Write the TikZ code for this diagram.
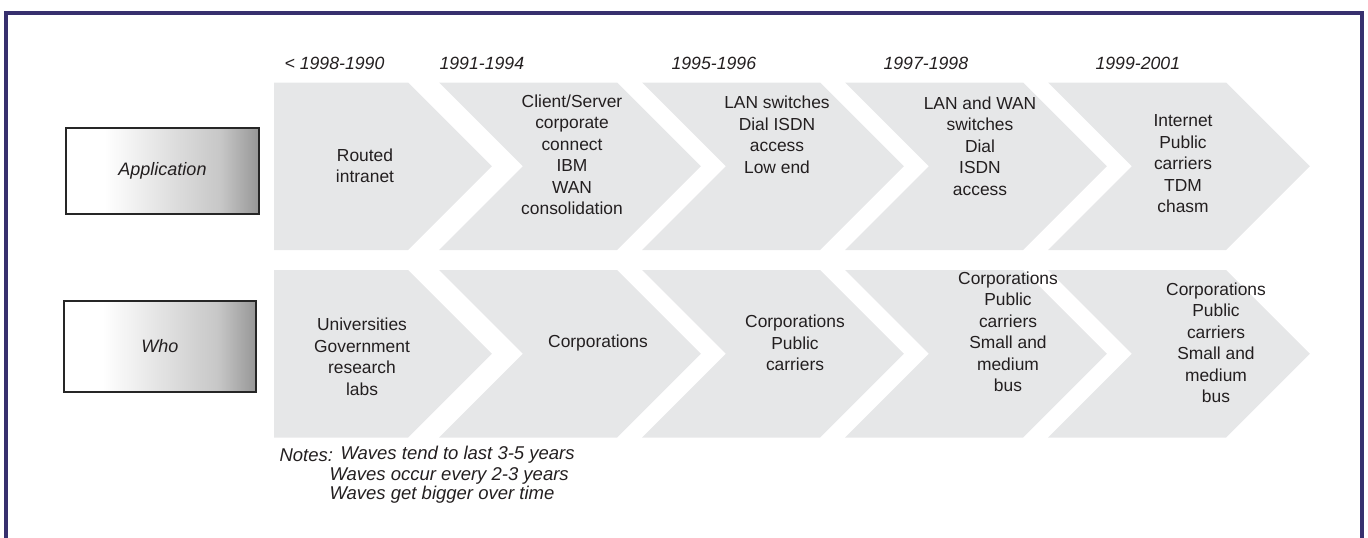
\documentclass[tikz,border=0pt]{standalone}
\usepackage{fontspec}
\setmainfont{Liberation Sans}
\usetikzlibrary{positioning}

\definecolor{framecol}{RGB}{55,48,110}
\definecolor{wavegray}{RGB}{230,231,232}
\definecolor{ink}{RGB}{35,31,32}
\pgfdeclarehorizontalshading{fade}{100bp}{color(0bp)=(white); color(35bp)=(white); color(65bp)=(black!22); color(85bp)=(black!60); color(95bp)=(black!85); color(100bp)=(black!90)}

\begin{document}
\begin{tikzpicture}[x=1pt, y=-1pt,
    every node/.style={align=center, text=ink, font=\fontsize{17.4}{21.5}\selectfont},
    year/.style={anchor=west, font=\fontsize{17.7}{21}\selectfont\itshape},
    note/.style={anchor=west, font=\fontsize{18.5}{20}\selectfont\itshape},
    labelbox/.style={draw=black!85, line width=1.5pt, shading=fade, font=\fontsize{18}{21}\selectfont\itshape}]
				\useasboundingbox (0,0) rectangle (1368,538);
				\draw[framecol, line width=4pt] (5.5,560) -- (5.5,12.5) -- (1361.5,12.5) -- (1361.5,560);
				
				% Waves
				\foreach \t in {82.5,270} {
					\fill[wavegray] (274,\t) -- (408,\t) -- (491.75,\t+83.75) -- (408,\t+167.5) -- (274,\t+167.5) -- cycle;
					\foreach \l/\r in {439/617, 642/820, 845/1023, 1048/1226}
						\fill[wavegray] (\l,\t) -- (\r,\t) -- (\r+83.75,\t+83.75) -- (\r,\t+167.5) -- (\l,\t+167.5) -- (\l+83.75,\t+83.75) -- cycle;
				}
				
				% Row labels
				\node (app) [labelbox, minimum width=193pt, minimum height=86pt] at (162.5,171) {Application};
				\node (who) [labelbox, minimum width=192pt, minimum height=91pt] at (160,346.5) {Who};
				
				% Years
				\node (y1) [year] at (281,63) {< 1998-1990};
				\node (y2) [year] at (436,63) {1991-1994};
				\node (y3) [year] at (668,63) {1995-1996};
				\node (y4) [year] at (880,63) {1997-1998};
				\node (y5) [year] at (1092,63) {1999-2001};
				
				% Application row
				\node (a1) at (365,166) {Routed\\intranet};
				\node (a2) at (572,155) {Client/Server\\corporate\\connect\\IBM\\WAN\\consolidation};
				\node (a3) at (777,135) {LAN switches\\Dial ISDN\\access\\Low end};
				\node (a4) at (980,146) {LAN and WAN\\switches\\Dial\\ISDN\\access};
				\node (a5) at (1183,164) {Internet\\Public\\carriers\\TDM\\chasm};
				
				% Who row
				\node (b1) at (362,357) {Universities\\Government\\research\\labs};
				\node (b2) at (598,343) {Corporations};
				\node (b3) at (795,343) {Corporations\\Public\\carriers};
				\node (b4) at (1008,332) {Corporations\\Public\\carriers\\Small and\\medium\\bus};
				\node (b5) at (1216,343) {Corporations\\Public\\carriers\\Small and\\medium\\bus};
				
				% Notes
				\node (notes) [note] at (276,455) {Notes:};
				\node (n1) [note] at (337,455) {Waves tend to last 3-5 years};
				\node (n2) [note] at (326,476) {Waves occur every 2-3 years};
				\node (n3) [note] at (326,495) {Waves get bigger over time};
			\end{tikzpicture}
\end{document}
